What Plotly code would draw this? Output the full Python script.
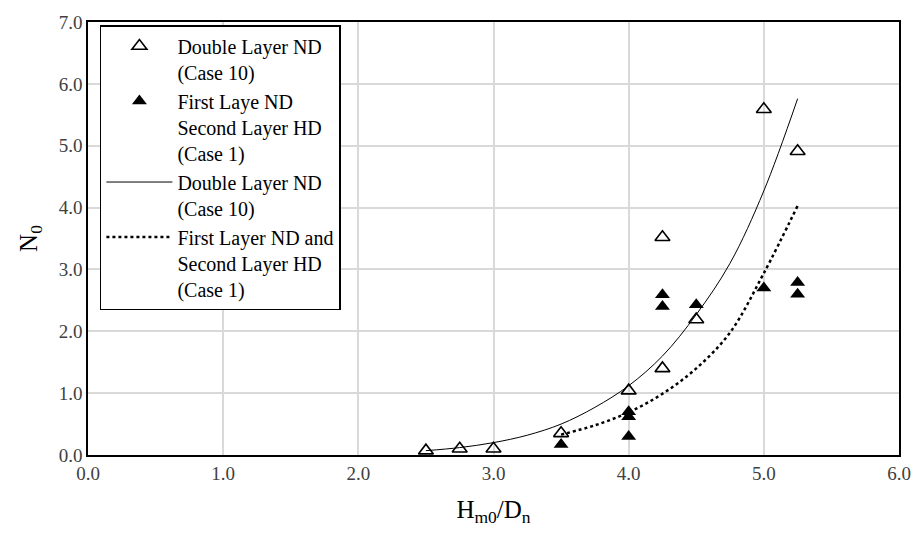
import plotly.graph_objects as go

# Case 10: Double Layer ND (open triangles)
case10_x = [2.5, 2.75, 3.0, 3.5, 4.0, 4.25, 4.25, 4.5, 5.0, 5.25]
case10_y = [0.07, 0.10, 0.10, 0.35, 1.04, 1.40, 3.52, 2.19, 5.59, 4.91]

# Case 1: First Layer ND, Second Layer HD (filled triangles)
case1_x = [3.5, 4.0, 4.0, 4.0, 4.25, 4.25, 4.5, 5.0, 5.25, 5.25]
case1_y = [0.17, 0.70, 0.62, 0.30, 2.59, 2.40, 2.43, 2.70, 2.79, 2.60]

# Trendlines
trend10_x = [2.5, 2.75, 3.0, 3.25, 3.5, 3.75, 4.0, 4.25, 4.5, 4.75, 5.0, 5.25]
trend10_y = [0.07, 0.12, 0.20, 0.32, 0.50, 0.77, 1.12, 1.60, 2.27, 3.10, 4.27, 5.76]
trend1_x = [3.5, 3.75, 4.0, 4.25, 4.5, 4.75, 5.0, 5.25]
trend1_y = [0.33, 0.48, 0.69, 0.99, 1.40, 1.98, 2.94, 4.03]

x_ticks = [0.0, 1.0, 2.0, 3.0, 4.0, 5.0, 6.0]
y_ticks = [0.0, 1.0, 2.0, 3.0, 4.0, 5.0, 6.0, 7.0]

name_open = "Double Layer ND<br>(Case 10)"
name_fill = "First Laye ND<br>Second Layer HD<br>(Case 1)"
name_line = "Double Layer ND<br>(Case 10)"
name_dot = "First Layer ND and<br>Second Layer HD<br>(Case 1)"

FONT = "Liberation Serif, Times New Roman, serif"

fig = go.Figure()
fig.add_trace(go.Scatter(
    x=case10_x, y=case10_y, mode="markers", name=name_open,
    marker=dict(symbol="triangle-up-open", size=13, color="black",
                line=dict(width=1.6, color="black")),
    legendgroup="a"))
fig.add_trace(go.Scatter(
    x=case1_x, y=case1_y, mode="markers", name=name_fill,
    marker=dict(symbol="triangle-up", size=13, color="black"),
    legendgroup="b"))
fig.add_trace(go.Scatter(
    x=trend10_x, y=trend10_y, mode="lines", name=name_line,
    line=dict(color="black", width=1, shape="spline"), legendgroup="c"))
fig.add_trace(go.Scatter(
    x=trend1_x, y=trend1_y, mode="lines", name=name_dot,
    line=dict(color="black", width=2.5, dash="dot", shape="spline"),
    legendgroup="d"))

axis_common = dict(
    showgrid=True, gridcolor="#d9d9d9", gridwidth=1.5,
    showline=True, linecolor="black", linewidth=1.5, mirror=True,
    zeroline=False, ticks="", tickfont=dict(family=FONT, size=19, color="#404040"),
)
fig.update_xaxes(range=[0, 6], tickvals=x_ticks,
                 ticktext=[f"{v:.1f}" for v in x_ticks],
                 title=dict(text="H<sub>m0</sub>/D<sub>n</sub>",
                            font=dict(family=FONT, size=25, color="black"),
                            standoff=18),
                 **axis_common)
fig.update_yaxes(range=[0, 7], tickvals=y_ticks,
                 ticktext=[f"{v:.1f}" for v in y_ticks],
                 title=dict(text="N<sub>0</sub>",
                            font=dict(family=FONT, size=25, color="black"),
                            standoff=14),
                 **axis_common)

fig.update_layout(
    width=923, height=535,
    margin=dict(l=88, r=17, t=17, b=80),
    paper_bgcolor="white", plot_bgcolor="white",
    font=dict(family=FONT, color="black"),
    legend=dict(x=0.0147, y=0.993, xanchor="left", yanchor="top",
                bgcolor="white", bordercolor="black", borderwidth=1.5,
                font=dict(family=FONT, size=20, color="black"),
                itemwidth=66, valign="top", tracegroupgap=0),
)

fig.write_html("out.html")
